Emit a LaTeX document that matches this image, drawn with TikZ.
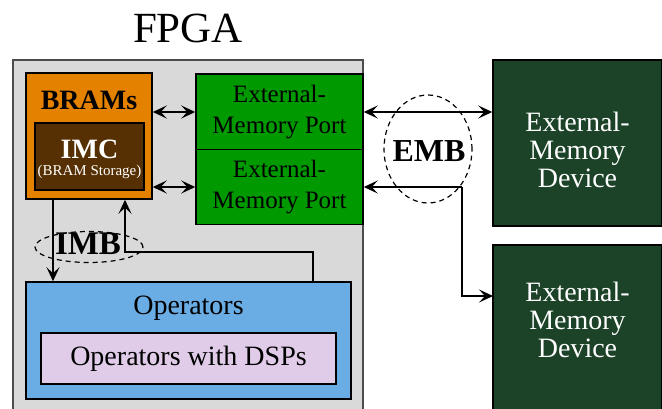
\documentclass[tikz,border=0pt]{standalone}
\usepackage{fontspec}
\setmainfont{Liberation Serif}
\usetikzlibrary{arrows.meta,shapes.geometric}
\definecolor{fpgagray}{RGB}{217,217,217}
\definecolor{bramorange}{RGB}{228,130,0}
\definecolor{imcbrown}{RGB}{86,48,2}
\definecolor{portgreen}{RGB}{0,153,0}
\definecolor{devgreen}{RGB}{28,66,40}
\definecolor{opblue}{RGB}{106,172,228}
\definecolor{dsplav}{RGB}{224,204,232}
\tikzset{
  tip/.tip={Stealth[length=14pt,width=13pt,inset=6pt]},
  box/.style={draw=black, line width=1.5pt, rectangle, inner sep=0pt},
  conn/.style={line width=1.6pt, -tip},
  biconn/.style={line width=1.6pt, tip-tip},
  bus/.style={draw=black, dash pattern=on 5pt off 4pt, line width=1.2pt, ellipse, inner sep=0pt},
  txt/.style={inner sep=0pt, align=center}
}
\begin{document}
\begin{tikzpicture}[x=1pt,y=-1pt]
\useasboundingbox (0,0) rectangle (662,408);
% FPGA region
\node[txt, font=\fontsize{43}{43}\selectfont] (fpgatitle) at (188,28) {FPGA};
\draw[fill=fpgagray, draw=black!70, line width=1.5pt] (13,60) rectangle (363,430);
% BRAMs
\node[box, fill=bramorange, minimum width=126pt, minimum height=126pt] (bram) at (89,136) {};
\node[txt, font=\fontsize{28}{28}\selectfont\bfseries] (bramtxt) at (89,100) {BRAMs};
\node[box, fill=imcbrown, minimum width=109pt, minimum height=67pt] (imc) at (89.5,156.5) {};
\node[txt, text=white, font=\fontsize{28}{28}\selectfont\bfseries] (imctxt) at (89.5,149) {IMC};
\node[txt, text=white, font=\fontsize{15}{15}\selectfont] (imcsub) at (89.5,172) {(BRAM Storage)};
% Ports
\node[box, fill=portgreen, minimum width=167pt, minimum height=76pt, txt, font=\fontsize{25}{31}\selectfont] (port1) at (279.5,112) {External-\\Memory Port};
\node[box, fill=portgreen, minimum width=167pt, minimum height=75pt, txt, font=\fontsize{25}{31}\selectfont] (port2) at (279.5,187) {External-\\Memory Port};
% Devices
\node[box, fill=devgreen, minimum width=169pt, minimum height=166pt] (dev1) at (577.5,143) {};
\node[txt, text=white, font=\fontsize{28}{28}\selectfont] (dev1txt) at (577.5,150) {External-\\Memory\\Device};
\node[box, fill=devgreen, minimum width=169pt, minimum height=166pt] (dev2) at (577.5,328) {};
\node[txt, text=white, font=\fontsize{28}{28}\selectfont] (dev2txt) at (577.5,320) {External-\\Memory\\Device};
% Operators
\node[box, fill=opblue, minimum width=325pt, minimum height=117pt] (ops) at (188.5,340.5) {};
\node[txt, font=\fontsize{28}{28}\selectfont] (opstxt) at (188.5,308) {Operators};
\node[box, fill=dsplav, minimum width=295pt, minimum height=51pt, txt, font=\fontsize{28}{28}\selectfont] (dsp) at (188.5,358.5) {Operators with DSPs};
% BRAM <-> ports
\draw[biconn] (bram.east |- port1.west) -- (port1.west);
\draw[biconn] (bram.east |- port2.west) -- (port2.west);
% IMB
\coordinate (imbdown) at (53,199);
\coordinate (imbturn1) at (313,252);
\coordinate (imbturn2) at (125,252);
\draw[conn] (imbdown) -- (imbdown |- ops.north);
\draw[conn] (imbturn1 |- ops.north) -- (imbturn1) -- (imbturn2) -- (imbturn2 |- bram.south);
\node[bus, minimum width=108pt, minimum height=31pt] (imb) at (89,247) {};
\node[txt, font=\fontsize{33}{33}\selectfont\bfseries] (imbtxt) at (88,244) {IMB};
% EMB
\coordinate (embsplit) at (462,187);
\coordinate (dev2in) at (493,296);
\draw[biconn] (port1.east) -- (dev1.west |- port1.east);
\draw[conn] (embsplit) -- (port2.east);
\draw[conn] (embsplit) |- (dev2in);
\node[bus, minimum width=88pt, minimum height=108pt] (emb) at (428,149) {};
\node[txt, font=\fontsize{32}{32}\selectfont\bfseries] (embtxt) at (429,151) {EMB};
\end{tikzpicture}
\end{document}
